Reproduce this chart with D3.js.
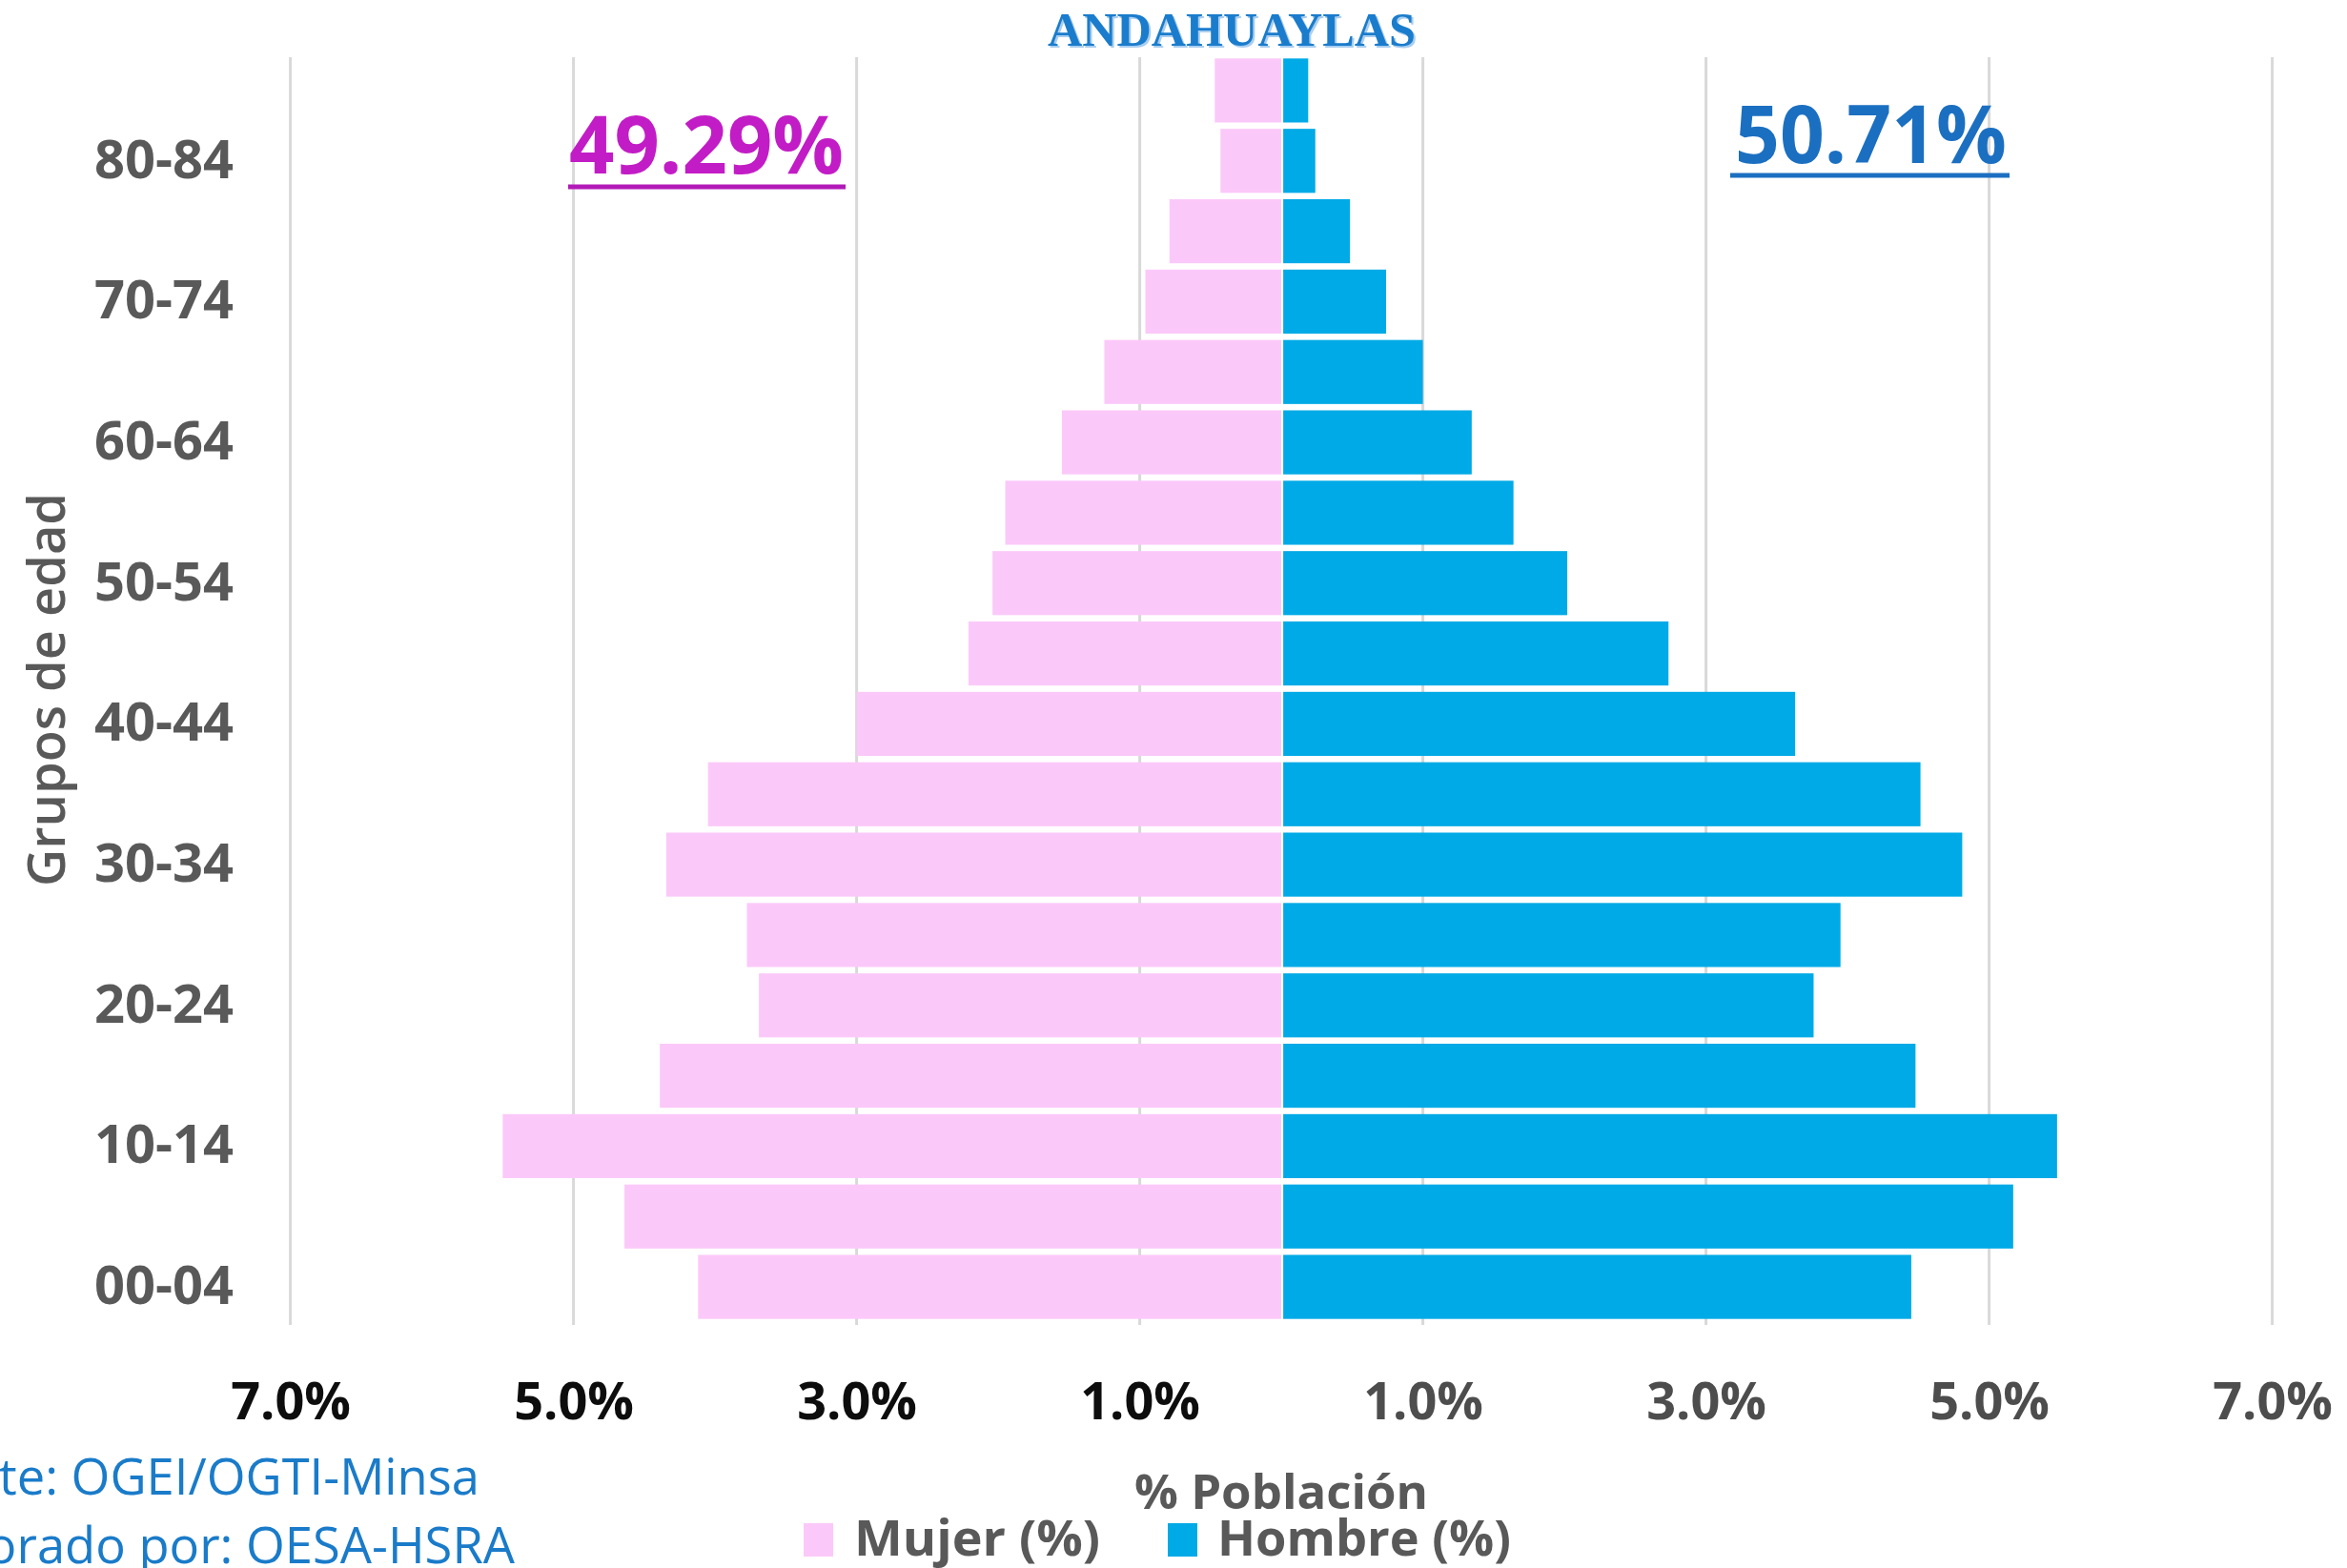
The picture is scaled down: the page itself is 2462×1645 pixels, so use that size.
<!DOCTYPE html>
<html><head><meta charset="utf-8">
<script src="https://cdn.jsdelivr.net/npm/d3@7"></script>
<style>body{margin:0;background:#fff;} svg{display:block;}</style>
</head><body><svg id="chart" width="2462" height="1645"></svg>
<script>
const ageGroups = ["00-04","05-09","10-14","15-19","20-24","25-29","30-34","35-39","40-44","45-49","50-54","55-59","60-64","65-69","70-74","75-79","80-84","85+"];
const mujer  = [4.12,4.64,5.50,4.39,3.69,3.775,4.345,4.05,3.00,2.21,2.04,1.95,1.55,1.25,0.96,0.79,0.43,0.47];
const hombre = [4.45,5.17,5.48,4.48,3.76,3.95,4.81,4.515,3.63,2.735,2.02,1.64,1.345,1.00,0.74,0.485,0.24,0.19];
const yTickLabels = ["00-04","10-14","20-24","30-34","40-44","50-54","60-64","70-74","80-84"];
const xTickValues = [-7,-5,-3,-1,1,3,5,7];
const titleText = "ANDAHUAYLAS";
const totalMujer = "49.29%";
const totalHombre = "50.71%";
const legendLabels = ["Mujer (%)","Hombre (%)"];
const xAxisTitle = "% Población";
const yAxisTitle = "Grupos de edad";
const sourceLines = ["Fuente: OGEI/OGTI-Minsa","Elaborado por: OESA-HSRA"];

const PINK = "#fbc9f9", BLUE = "#00aae6";
const SANS = "'Open Sans', sans-serif";
const svg = d3.select("#chart");

const x = d3.scaleLinear().domain([-7, 7]).range([304.6, 2383.6]);
const y = d3.scaleBand().domain(ageGroups.slice().reverse()).range([58, 1387]).paddingInner(0.09).paddingOuter(0.045);

// gridlines
svg.append("g").selectAll("line").data(xTickValues).join("line")
  .attr("x1", d => x(d)).attr("x2", d => x(d))
  .attr("y1", 60).attr("y2", 1390)
  .attr("stroke", "#d9d9d9").attr("stroke-width", 3);

// bars
const rows = ageGroups.map((g, i) => ({g, m: mujer[i], h: hombre[i]}));
svg.append("g").selectAll("rect").data(rows).join("rect")
  .attr("x", d => x(-d.m)).attr("width", d => x(0) - x(-d.m))
  .attr("y", d => y(d.g)).attr("height", y.bandwidth())
  .attr("fill", PINK);
svg.append("g").selectAll("rect").data(rows).join("rect")
  .attr("x", x(0) + 2).attr("width", d => x(d.h) - x(0) - 2)
  .attr("y", d => y(d.g)).attr("height", y.bandwidth())
  .attr("fill", BLUE);

// y axis
const yAxis = svg.append("g").attr("transform", "translate(255,0)")
  .call(d3.axisLeft(y).tickSize(0).tickPadding(10).tickFormat(d => yTickLabels.includes(d) ? d : ""));
yAxis.select(".domain").remove();
yAxis.selectAll("text").attr("font-family", SANS).attr("font-weight", 700)
  .attr("font-size", 56).attr("fill", "#595959");

// x axis
const xAxis = svg.append("g").attr("transform", "translate(0,1440)")
  .call(d3.axisBottom(x).tickValues(xTickValues).tickSize(0).tickPadding(11)
    .tickFormat(d => Math.abs(d).toFixed(1) + "%"));
xAxis.select(".domain").remove();
xAxis.selectAll("text").attr("font-family", SANS).attr("font-weight", 700)
  .attr("font-size", 54).attr("fill", d => d < 0 ? "#0d0d0d" : "#4d4d4d");

// title with shadow
svg.append("text").attr("x", 1294).attr("y", 50).attr("text-anchor", "middle")
  .attr("font-family", "'Liberation Serif', serif").attr("font-weight", 700).attr("font-size", 50)
  .attr("textLength", 386).attr("lengthAdjust", "spacingAndGlyphs")
  .attr("fill", "#a9cdee").text(titleText);
svg.append("text").attr("x", 1292).attr("y", 48).attr("text-anchor", "middle")
  .attr("font-family", "'Liberation Serif', serif").attr("font-weight", 700).attr("font-size", 50)
  .attr("textLength", 386).attr("lengthAdjust", "spacingAndGlyphs")
  .attr("fill", "#1a7ccc").text(titleText);

// totals
svg.append("text").attr("x", 597).attr("y", 182)
  .attr("font-family", SANS).attr("font-weight", 700).attr("font-size", 84)
  .attr("textLength", 288).attr("lengthAdjust", "spacingAndGlyphs")
  .attr("fill", "#c21cc6").text(totalMujer);
svg.append("line").attr("x1", 596).attr("x2", 887).attr("y1", 196).attr("y2", 196)
  .attr("stroke", "#b21ab8").attr("stroke-width", 5);
svg.append("text").attr("x", 1820).attr("y", 171)
  .attr("font-family", SANS).attr("font-weight", 700).attr("font-size", 84)
  .attr("textLength", 285).attr("lengthAdjust", "spacingAndGlyphs")
  .attr("fill", "#1b6fc1").text(totalHombre);
svg.append("line").attr("x1", 1815).attr("x2", 2108).attr("y1", 184).attr("y2", 184)
  .attr("stroke", "#1b6fc1").attr("stroke-width", 5);

// axis titles
svg.append("text").attr("x", 1344).attr("y", 1583).attr("text-anchor", "middle")
  .attr("font-family", SANS).attr("font-weight", 700).attr("font-size", 50)
  .attr("textLength", 308).attr("lengthAdjust", "spacingAndGlyphs")
  .attr("fill", "#595959").text(xAxisTitle);
svg.append("text").attr("transform", "translate(68,723.5) rotate(-90)").attr("text-anchor", "middle")
  .attr("font-family", SANS).attr("font-weight", 600).attr("font-size", 54)
  .attr("textLength", 413).attr("lengthAdjust", "spacingAndGlyphs")
  .attr("fill", "#595959").text(yAxisTitle);

// legend
const legendItems = [
  {label: legendLabels[0], color: PINK, rx: 843, tx: 896, len: 258},
  {label: legendLabels[1], color: BLUE, rx: 1225, tx: 1277, len: 308}
];
const lg = svg.append("g");
lg.selectAll("rect").data(legendItems).join("rect")
  .attr("x", d => d.rx).attr("y", 1598).attr("width", 31).attr("height", 35).attr("fill", d => d.color);
lg.selectAll("text").data(legendItems).join("text")
  .attr("x", d => d.tx).attr("y", 1632)
  .attr("font-family", SANS).attr("font-weight", 700).attr("font-size", 52)
  .attr("textLength", d => d.len).attr("lengthAdjust", "spacingAndGlyphs")
  .attr("fill", "#595959").text(d => d.label);

// source
svg.append("g").selectAll("text").data(sourceLines).join("text")
  .attr("x", (d, i) => i === 0 ? 503 : 540).attr("y", (d, i) => i === 0 ? 1568 : 1640)
  .attr("text-anchor", "end")
  .attr("font-family", SANS).attr("font-size", 52.5).attr("fill", "#1a7bc9")
  .text(d => d);
</script>
</body></html>
